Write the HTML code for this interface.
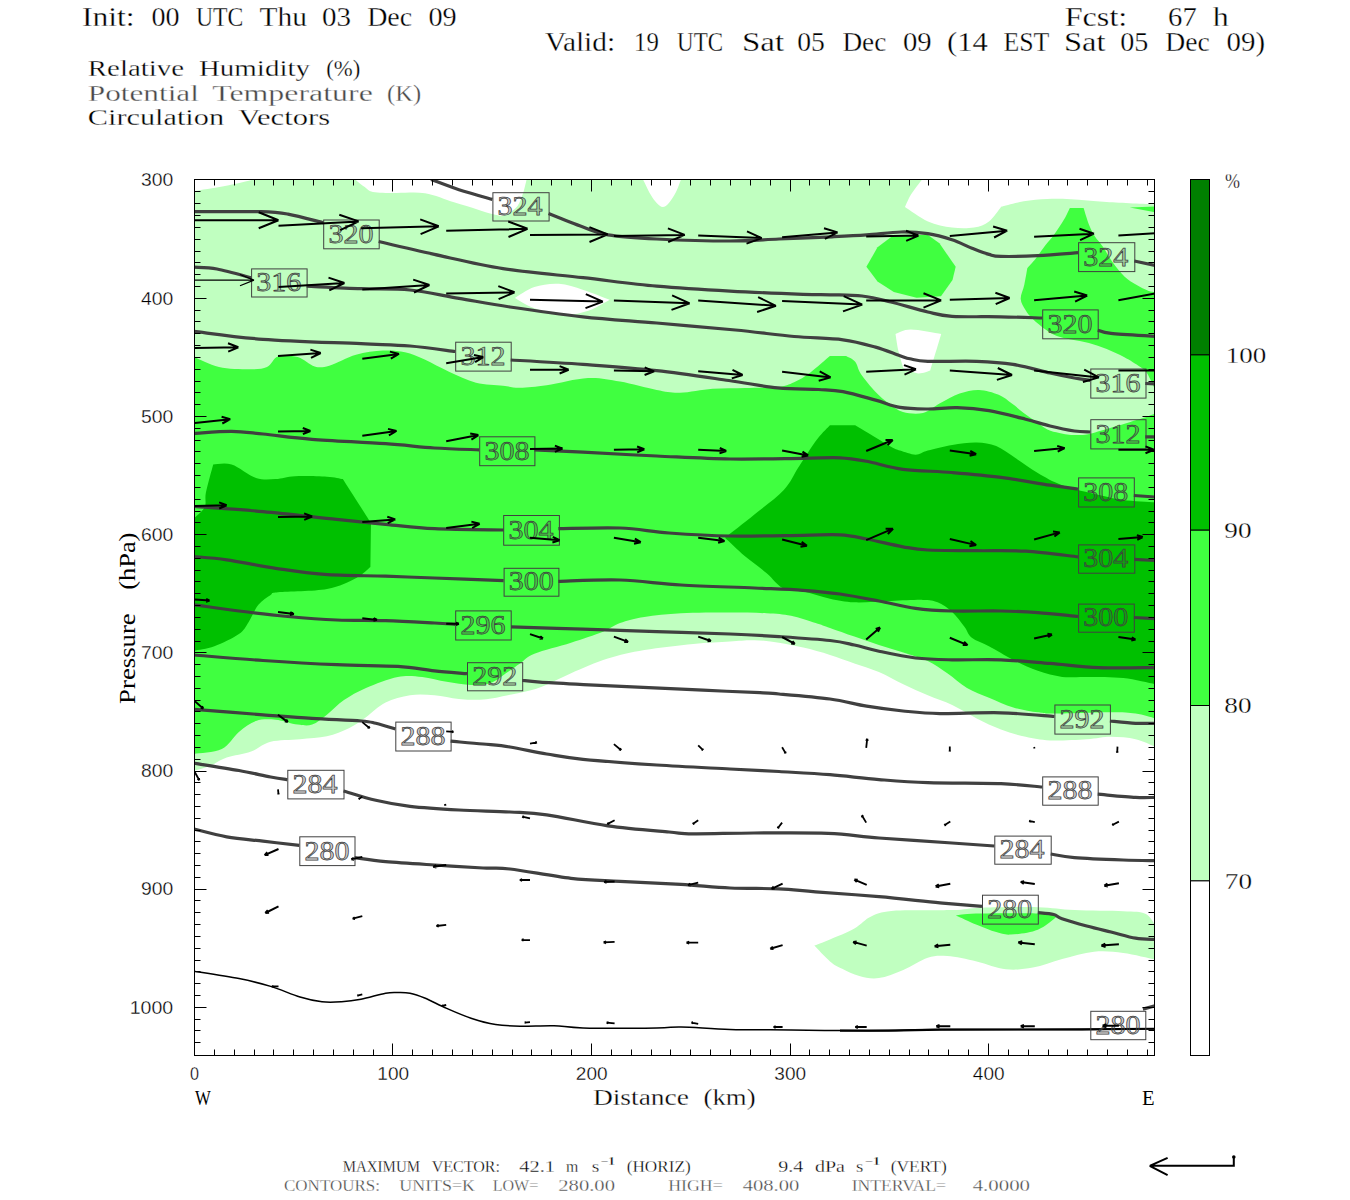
<!DOCTYPE html>
<html><head><meta charset="utf-8"><title>Cross section</title><style>html,body{margin:0;padding:0;background:#fff}svg{display:block}</style></head><body>
<svg width="1350" height="1200" viewBox="0 0 1350 1200"><defs><clipPath id="clipf"><rect x="194.5" y="179.5" width="960.0" height="876.0"/></clipPath></defs>
<g clip-path="url(#clipf)">
<path d="M194.0 191.0C199.2 190.2 215.0 187.9 225.0 186.0C235.0 184.1 249.2 180.6 254.0 179.5L355.0 179.5C356.5 180.7 361.0 184.4 364.0 186.5C367.0 188.6 367.8 190.9 373.0 192.0C378.2 193.1 386.3 192.8 395.0 193.0C403.7 193.2 415.2 191.8 425.0 193.3C434.8 194.9 445.3 199.6 454.0 202.3C462.7 205.0 471.0 207.4 477.4 209.4C483.8 211.4 488.2 213.0 492.2 214.1C496.2 215.2 499.9 215.7 501.5 216.0L508.2 214.1C509.8 212.7 515.3 209.0 517.7 205.8C520.1 202.6 521.2 198.2 522.4 195.1C523.6 191.9 524.1 189.5 524.8 186.9C525.5 184.3 526.3 180.7 526.6 179.5L643.0 179.5C644.3 182.0 648.3 190.7 650.6 194.6C652.9 198.5 654.7 200.9 656.7 203.0C658.7 205.1 660.8 207.0 662.8 207.0C664.8 207.0 666.7 205.5 668.9 203.0C671.1 200.5 674.0 195.9 676.0 192.0C678.0 188.1 680.2 181.6 681.0 179.5L922.0 179.5C920.2 182.0 913.8 190.0 911.0 194.6C908.2 199.2 906.0 204.9 905.0 207.0L905.0 207.0C908.8 209.4 920.2 218.0 928.0 221.4C935.8 224.8 944.3 226.6 952.0 227.6C959.7 228.6 967.8 228.6 974.0 227.6C980.2 226.6 984.5 224.8 989.0 221.4C993.5 218.0 999.0 209.4 1001.0 207.0L1001.0 206.8C1004.8 205.9 1016.0 202.6 1023.7 201.3C1031.4 200.0 1039.5 199.2 1047.4 198.9C1055.3 198.6 1061.1 198.7 1071.0 199.2C1080.9 199.7 1092.7 201.1 1106.7 201.9C1120.7 202.8 1147.0 203.9 1155.0 204.3L1155.0 746.6C1151.8 745.4 1142.9 740.8 1135.6 739.2C1128.3 737.6 1119.2 736.8 1111.0 736.8C1102.8 736.8 1096.9 738.6 1086.7 739.2C1076.5 739.8 1060.2 740.8 1050.0 740.4C1039.8 740.0 1033.8 738.6 1025.6 736.8C1017.4 735.0 1009.1 732.5 1001.0 729.4C992.9 726.3 984.8 722.5 976.7 718.4C968.6 714.3 960.4 708.9 952.2 705.0C944.1 701.1 935.9 698.7 927.8 695.2C919.6 691.7 911.4 688.1 903.3 684.2C895.1 680.3 887.0 675.5 878.9 672.0C870.8 668.5 862.5 666.2 854.4 663.4C846.2 660.5 838.5 657.5 830.0 654.9C821.5 652.3 811.8 649.6 803.3 647.6C794.8 645.6 787.0 643.9 778.9 642.7C770.8 641.5 762.5 640.4 754.4 640.2C746.2 640.0 740.2 640.8 730.0 641.4C719.8 642.0 707.6 642.5 693.3 643.9C679.0 645.3 658.6 647.5 644.4 650.0C630.1 652.5 620.0 654.7 607.8 658.6C595.6 662.5 582.1 668.5 571.1 673.2C560.1 677.9 550.3 683.4 541.8 686.7C533.3 690.0 525.7 691.4 520.0 692.8C514.3 694.2 513.9 694.1 507.8 695.2C501.7 696.3 491.5 699.0 483.3 699.6C475.1 700.2 467.0 699.6 458.9 698.9C450.8 698.2 442.5 695.8 434.4 695.2C426.2 694.6 418.1 694.0 410.0 695.2C401.9 696.4 392.9 698.9 385.6 702.6C378.3 706.3 372.1 712.9 366.0 717.2C359.9 721.5 355.4 725.0 348.9 728.2C342.4 731.4 335.0 734.5 326.9 736.3C318.8 738.1 309.4 738.3 300.0 739.2C290.6 740.1 278.8 739.7 270.7 741.7C262.6 743.7 258.4 748.8 251.1 751.4C243.8 754.0 233.6 755.1 226.7 757.6C219.8 760.1 215.0 763.9 209.6 766.1C204.2 768.3 196.6 770.2 194.0 771.0Z" fill="#c0ffc0"/>
<path d="M814.3 945.6C816.9 944.6 823.3 942.3 830.0 939.4C836.7 936.5 847.5 932.3 854.4 928.4C861.3 924.5 864.7 919.2 871.6 916.2C878.5 913.2 882.6 911.6 896.0 910.6C909.4 909.6 937.9 910.6 952.2 910.1C966.5 909.6 967.3 908.2 981.6 907.7C995.9 907.2 1022.3 906.8 1037.8 907.2C1053.3 907.6 1060.2 909.4 1074.4 910.1C1088.7 910.8 1111.5 910.7 1123.3 911.3C1135.1 911.9 1140.0 911.5 1145.3 913.8C1150.6 916.0 1153.4 923.0 1155.0 924.8L1155.0 959.5C1149.7 958.4 1133.5 954.2 1123.3 952.9C1113.1 951.6 1104.2 950.7 1094.0 951.7C1083.8 952.7 1072.4 956.4 1062.2 959.0C1052.0 961.6 1042.3 965.9 1032.9 967.6C1023.5 969.3 1015.4 970.3 1006.0 969.3C996.6 968.3 986.5 963.6 976.7 961.4C966.9 959.2 955.4 956.7 947.3 956.1C939.1 955.5 935.1 955.5 927.8 957.8C920.5 960.1 911.4 966.6 903.3 970.0C895.1 973.4 886.2 977.1 878.9 978.1C871.6 979.1 865.4 977.7 859.3 976.1C853.2 974.5 847.1 971.2 842.2 968.8C837.3 966.3 834.6 965.3 830.0 961.4C825.4 957.5 816.9 948.2 814.3 945.6Z" fill="#c0ffc0"/>
<path d="M514.9 298.0C518.1 296.2 527.1 289.4 534.4 287.0C541.7 284.6 550.8 283.3 558.9 283.8C567.0 284.3 574.8 287.2 583.3 289.9C591.8 292.5 605.3 298.1 609.7 299.7L609.7 299.7C606.1 301.5 595.9 308.2 588.2 310.7C580.6 313.2 572.8 315.2 563.8 314.8C554.8 314.4 542.5 311.0 534.4 308.2C526.2 305.4 518.1 299.7 514.9 298.0Z" fill="#ffffff"/>
<path d="M895.5 333.9C898.0 333.2 903.1 329.5 910.7 329.5C918.3 329.5 936.1 333.2 941.2 333.9L941.2 333.9C940.6 335.9 939.4 340.0 937.6 346.1C935.8 352.2 931.4 366.5 930.2 370.6L930.2 370.6C928.2 371.1 922.5 373.9 918.0 373.5C913.5 373.1 905.8 369.0 903.3 368.1L903.3 368.1C902.5 365.2 899.7 356.7 898.4 351.0C897.1 345.3 896.0 336.8 895.5 333.9Z" fill="#ffffff"/>
<path d="M194.0 357.0C198.2 358.7 209.8 364.9 219.0 367.0C228.2 369.1 241.0 369.3 249.0 369.3C257.0 369.3 262.2 369.1 267.0 367.0C271.8 364.9 272.9 358.1 278.0 356.4C283.1 354.7 291.5 355.3 297.6 357.0C303.7 358.7 309.4 364.9 314.7 366.4C320.0 367.8 322.4 367.6 329.3 365.7C336.2 363.8 347.1 357.2 356.0 354.7C364.9 352.2 374.8 350.9 383.0 350.5C391.2 350.1 398.1 350.7 405.0 352.2C411.9 353.7 417.4 356.3 424.7 359.6C432.0 362.9 440.4 367.9 449.0 371.8C457.6 375.7 467.0 380.5 476.0 382.8C485.0 385.1 495.7 384.9 503.0 385.7C510.3 386.5 512.7 387.8 520.0 387.7C527.3 387.6 535.4 386.8 546.7 385.2C558.0 383.6 575.8 378.6 588.0 378.0C600.2 377.4 608.5 379.6 620.0 381.6C631.5 383.6 646.7 388.1 656.7 390.0C666.7 391.9 670.7 392.9 680.0 392.7C689.3 392.5 701.7 389.5 712.6 388.7C723.5 387.9 734.3 388.2 745.2 387.9C756.1 387.6 769.6 387.9 777.8 387.0C785.9 386.1 788.7 384.6 794.1 382.2C799.5 379.8 804.4 376.8 810.4 372.4C816.4 368.0 826.6 358.8 829.9 356.1L829.9 356.1L846.2 356.1L846.2 356.1C847.7 357.1 852.8 358.8 855.2 361.8C857.7 364.8 857.5 369.0 860.9 374.0C864.3 379.0 871.0 387.0 875.6 391.9C880.2 396.8 884.0 399.9 888.6 403.3C893.2 406.7 897.3 410.4 903.0 412.0C908.7 413.6 916.8 414.4 923.0 413.0C929.2 411.6 933.9 406.5 940.0 403.3C946.1 400.1 953.1 395.8 959.6 393.6C966.1 391.4 972.5 389.8 979.0 390.0C985.5 390.2 993.2 392.6 998.7 394.8C1004.2 397.1 1007.7 400.5 1011.9 403.5C1016.1 406.5 1019.8 410.0 1023.7 413.0C1027.7 416.0 1031.6 418.5 1035.6 421.3C1039.5 424.1 1043.5 427.6 1047.4 429.6C1051.4 431.6 1055.3 432.2 1059.3 433.1C1063.2 434.0 1067.1 434.6 1071.1 434.9C1075.0 435.2 1079.8 435.1 1083.0 434.9C1086.2 434.7 1087.1 434.4 1090.1 433.7C1093.0 433.0 1097.0 431.8 1100.7 430.7C1104.5 429.6 1107.6 428.7 1112.6 427.2C1117.5 425.7 1125.5 423.4 1130.4 421.9C1135.3 420.4 1138.1 419.7 1142.2 418.3C1146.3 416.9 1152.9 414.2 1155.0 413.4L1155.0 718.4C1151.8 717.6 1142.9 714.6 1135.6 713.6C1128.3 712.6 1124.4 712.3 1111.0 712.3C1097.6 712.3 1067.2 713.6 1055.0 713.6C1042.8 713.6 1044.8 713.3 1037.8 712.3C1030.8 711.3 1021.4 709.8 1013.3 707.4C1005.2 705.0 996.7 701.0 989.0 697.7C981.3 694.5 974.0 692.0 967.0 687.9C960.0 683.8 953.8 677.7 947.3 673.2C940.8 668.7 935.1 664.5 927.8 661.0C920.5 657.5 911.4 655.0 903.3 652.4C895.1 649.8 887.0 647.7 878.9 645.1C870.8 642.5 862.5 639.5 854.4 636.6C846.2 633.8 836.5 630.2 830.0 628.0C823.5 625.8 822.1 625.1 815.6 623.1C809.1 621.1 799.1 617.4 791.0 615.8C782.9 614.2 776.9 613.8 766.7 613.3C756.5 612.8 744.3 612.6 730.0 612.6C715.7 612.6 695.3 612.6 681.0 613.3C666.7 614.0 654.6 615.4 644.4 617.0C634.2 618.6 626.9 620.6 620.0 623.1C613.1 625.6 611.2 628.4 603.0 631.7C594.8 635.0 582.4 639.0 571.0 642.7C559.6 646.4 542.9 650.2 534.4 653.7C525.9 657.2 524.4 660.4 520.0 663.4C515.6 666.4 512.7 668.7 507.8 672.0C502.9 675.3 496.8 680.8 490.7 683.0C484.6 685.2 478.3 685.2 471.0 685.0C463.7 684.8 454.8 683.1 446.7 681.8C438.6 680.4 430.3 677.7 422.2 676.9C414.1 676.1 407.2 675.1 397.8 676.9C388.4 678.7 375.0 684.0 366.0 687.9C357.0 691.8 350.5 695.6 344.0 700.1C337.5 704.6 332.2 710.7 326.9 714.8C321.6 718.9 317.1 723.0 312.2 724.6C307.3 726.2 303.7 725.4 297.6 724.6C291.5 723.8 282.5 720.3 275.6 719.7C268.7 719.1 262.1 718.9 256.0 720.9C249.9 722.9 244.6 727.2 238.9 731.9C233.2 736.6 229.3 745.3 221.8 749.0C214.3 752.7 198.6 753.1 194.0 753.9Z" fill="#40ff40"/>
<path d="M1069.9 208.0L1083.6 208.0L1083.6 208.0C1084.5 210.7 1087.0 219.7 1088.9 224.4C1090.8 229.1 1092.4 232.4 1094.8 236.2C1097.2 239.9 1100.1 242.6 1103.1 246.9C1106.1 251.2 1109.0 257.4 1112.6 262.3C1116.1 267.2 1120.5 272.8 1124.4 276.5C1128.4 280.2 1132.3 282.4 1136.3 284.8C1140.2 287.2 1145.0 289.5 1148.1 290.7C1151.2 291.9 1153.8 291.9 1155.0 292.2L1155.0 389.3C1154.2 387.7 1152.0 382.8 1150.5 379.8C1149.0 376.8 1147.6 373.7 1145.8 371.5C1144.0 369.3 1143.5 369.1 1139.9 366.7C1136.3 364.3 1129.9 360.2 1124.4 357.3C1118.9 354.4 1112.6 351.4 1106.7 349.0C1100.8 346.6 1094.8 344.6 1088.9 343.0C1083.0 341.4 1076.4 340.7 1071.1 339.5C1065.8 338.3 1061.1 337.5 1056.9 335.9C1052.8 334.3 1050.2 332.8 1046.2 330.0C1042.2 327.2 1036.5 322.5 1033.0 319.2C1029.5 315.9 1027.5 313.4 1025.5 310.0C1023.5 306.6 1020.9 303.2 1020.7 299.0C1020.5 294.8 1023.2 289.9 1024.3 284.8C1025.4 279.7 1026.8 271.0 1027.3 268.2L1027.3 268.2C1028.7 266.6 1032.6 262.4 1035.6 258.7C1038.5 254.9 1042.0 249.6 1045.0 245.7C1048.0 241.8 1050.7 239.3 1053.9 235.0C1057.1 230.7 1061.3 224.1 1064.0 219.6C1066.7 215.1 1068.9 209.9 1069.9 208.0Z" fill="#40ff40"/>
<path d="M1129.8 207.5L1155.0 206.5L1155.0 212.3L1129.8 207.5Z" fill="#40ff40"/>
<path d="M955.9 915.5C959.2 915.2 962.0 913.8 976.0 913.5C990.0 913.2 1026.5 913.0 1040.0 913.5C1053.5 914.0 1054.4 915.8 1057.3 916.2L1057.3 916.2C1054.0 918.5 1045.5 926.6 1037.8 929.7C1030.1 932.8 1017.8 934.2 1010.9 934.6C1004.0 935.0 1001.9 933.7 996.2 932.1C990.5 930.5 983.4 927.6 976.7 924.8C970.0 922.0 959.4 917.0 955.9 915.5Z" fill="#40ff40"/>
<path d="M866.4 266.8L877.5 247.3L877.5 247.3L893.8 235.0L893.8 235.0L928.0 235.0L928.0 235.0L939.4 243.2L939.4 243.2L955.7 266.8L955.7 266.8L952.5 279.9L952.5 279.9L941.0 296.2L941.0 296.2L916.6 297.8L916.6 297.8L893.8 292.1L893.8 292.1L877.5 281.5L877.5 281.5L866.4 266.8Z" fill="#40ff40"/>
<path d="M194.0 518.2C195.8 516.4 202.7 511.5 204.7 507.2C206.7 502.9 204.5 499.7 205.9 492.6C207.3 485.5 212.0 469.1 213.2 464.4L213.2 464.4C216.3 464.4 224.5 462.1 231.6 464.4C238.7 466.6 248.7 475.4 256.0 477.9C263.3 480.3 269.1 479.4 275.6 479.1C282.1 478.8 286.4 476.6 295.0 476.2C303.6 475.8 319.0 476.2 327.0 476.7C335.0 477.2 340.2 478.7 342.8 479.1L342.8 479.1C345.0 482.6 351.5 492.7 356.2 500.0C360.9 507.3 368.5 519.2 371.0 523.0L371.0 523.0L370.4 567.0L370.4 567.0C368.0 568.8 363.4 574.3 356.2 578.0C349.0 581.7 340.0 586.6 327.0 589.0C314.0 591.4 287.4 591.3 278.0 592.3C268.6 593.3 274.0 592.9 270.7 595.0C267.4 597.1 262.1 600.3 258.4 604.8C254.7 609.3 251.9 617.0 248.7 621.9C245.4 626.8 244.6 630.0 238.9 634.1C233.2 638.2 221.9 643.5 214.4 646.3C206.9 649.1 197.4 650.0 194.0 650.7Z" fill="#00c000"/>
<path d="M725.0 537.8C729.9 533.9 744.6 522.6 754.4 514.6C764.2 506.6 776.5 497.8 783.8 490.0C791.1 482.2 794.1 474.0 798.0 468.0C801.9 462.0 803.7 459.0 807.1 453.9C810.5 448.8 814.7 442.4 818.5 437.6C822.3 432.8 828.0 427.4 829.9 425.3L829.9 425.3L855.2 425.3L855.2 425.3C858.6 427.4 869.5 433.9 875.6 437.6C881.7 441.3 887.8 445.1 891.9 447.3C896.0 449.5 896.0 449.4 900.0 450.6C904.0 451.8 911.0 454.7 915.6 454.7C920.2 454.7 921.7 452.1 927.8 450.5C933.9 448.9 944.1 446.2 952.2 444.9C960.4 443.5 969.4 442.2 976.7 442.4C984.0 442.6 989.7 443.5 996.2 446.1C1002.7 448.8 1008.9 453.8 1015.8 458.3C1022.7 462.8 1030.1 468.5 1037.8 473.0C1045.5 477.5 1052.0 481.5 1062.2 485.2C1072.4 488.9 1088.7 492.6 1098.9 495.0C1109.1 497.4 1114.0 498.7 1123.3 499.9C1132.6 501.1 1149.7 501.9 1155.0 502.3L1155.0 684.2C1149.7 683.2 1134.7 679.3 1123.3 678.1C1111.9 676.9 1096.9 677.1 1086.7 676.9C1076.5 676.7 1070.4 677.9 1062.2 676.9C1054.0 675.9 1046.0 673.6 1037.8 670.8C1029.6 667.9 1021.4 663.9 1013.3 659.8C1005.1 655.7 995.8 650.0 988.9 646.3C982.0 642.6 975.9 641.0 971.8 637.8C967.7 634.5 967.7 631.1 964.4 626.8C961.1 622.5 956.7 616.2 952.2 612.1C947.7 608.0 942.5 604.3 937.6 602.3C932.7 600.3 930.7 600.1 922.9 599.9C915.1 599.7 902.4 600.6 891.0 601.0C879.6 601.4 864.6 602.7 854.4 602.3C844.2 601.9 838.5 600.5 830.0 598.7C821.5 596.9 811.2 593.4 803.3 591.6C795.4 589.8 788.7 591.0 782.6 587.9C776.5 584.8 773.0 578.5 766.7 573.2C760.4 567.9 751.7 562.0 744.7 556.1C737.8 550.2 728.3 540.8 725.0 537.8Z" fill="#00c000"/>
<path d="M431.0 179.5C435.7 181.2 448.8 186.4 459.0 189.7C469.2 193.0 486.8 197.8 492.4 199.4" fill="none" stroke="#404040" stroke-width="3.2"/>
<path d="M548.6 213.5C554.3 215.8 573.1 223.4 583.0 227.0C592.9 230.6 595.7 232.9 608.0 234.9C620.3 236.9 636.4 238.0 656.7 239.0C677.0 240.0 709.6 241.0 730.0 241.0C750.4 241.0 762.0 239.7 779.0 239.0C796.0 238.3 817.4 237.5 832.0 236.8C846.6 236.1 855.2 235.7 866.7 234.9C878.2 234.1 890.8 232.2 901.0 232.0C911.2 231.8 919.3 232.4 927.8 233.7C936.3 235.0 944.6 237.4 952.0 239.8C959.4 242.2 965.8 245.9 972.0 248.3C978.2 250.7 984.2 253.1 989.0 254.4C993.8 255.8 992.9 256.2 1001.0 256.4C1009.1 256.6 1025.0 256.3 1037.8 255.7C1050.6 255.1 1071.3 253.2 1078.0 252.7" fill="none" stroke="#404040" stroke-width="3.2"/>
<path d="M1134.3 261.0L1155.0 265.4" fill="none" stroke="#404040" stroke-width="3.2"/>
<path d="M194.0 211.7C205.2 211.7 245.3 211.3 261.0 211.7C276.7 212.1 277.6 212.3 288.0 214.1C298.4 215.9 317.3 221.3 323.2 222.7" fill="none" stroke="#404040" stroke-width="3.2"/>
<path d="M378.7 241.5C388.0 243.7 413.7 249.9 434.4 254.4C455.1 258.9 478.2 264.7 503.0 268.6C527.8 272.5 557.4 274.8 583.0 277.7C608.6 280.6 632.2 284.0 656.7 286.2C681.2 288.4 705.6 289.8 730.0 291.1C754.4 292.5 786.3 293.7 803.0 294.3C819.7 294.9 820.2 294.5 830.0 294.8C839.8 295.1 851.8 294.8 862.0 296.0C872.2 297.2 880.0 299.3 891.0 302.0C902.0 304.7 917.6 309.6 927.8 312.0C938.0 314.4 939.8 315.5 952.0 316.3C964.2 317.1 986.0 316.5 1001.0 316.8C1016.0 317.1 1035.3 317.8 1042.2 318.0" fill="none" stroke="#404040" stroke-width="3.2"/>
<path d="M1097.7 330.2C1099.9 330.7 1101.5 332.4 1111.0 333.4C1120.5 334.4 1147.7 335.8 1155.0 336.3" fill="none" stroke="#404040" stroke-width="3.2"/>
<path d="M194.0 267.2C197.8 267.5 207.5 267.2 217.0 269.0C226.5 270.8 245.3 276.2 251.0 277.7" fill="none" stroke="#404040" stroke-width="3.2"/>
<path d="M306.6 286.2C315.7 286.6 343.8 288.1 361.0 288.7C378.2 289.3 393.7 288.4 410.0 290.0C426.3 291.6 442.3 295.6 459.0 298.4C475.7 301.2 489.3 303.9 510.0 307.0C530.7 310.1 558.5 314.1 583.0 316.8C607.5 319.5 631.3 320.8 656.7 323.0C682.1 325.2 712.5 327.8 735.4 330.0C758.3 332.2 776.2 334.9 794.1 336.5C812.0 338.1 829.4 338.0 843.0 339.8C856.6 341.6 866.1 344.5 875.6 347.1C885.1 349.8 894.3 353.8 900.0 355.7C905.7 357.6 905.4 357.9 910.0 358.8C914.6 359.7 916.7 360.9 927.8 361.3C938.9 361.7 962.5 360.8 976.7 361.3C990.9 361.8 1000.8 362.4 1013.0 364.4C1025.2 366.3 1039.8 370.7 1050.0 373.0C1060.2 375.3 1067.7 376.8 1074.4 378.0C1081.1 379.2 1087.7 379.9 1090.3 380.3" fill="none" stroke="#404040" stroke-width="3.2"/>
<path d="M1145.3 383.5L1155.0 383.8" fill="none" stroke="#404040" stroke-width="3.2"/>
<path d="M194.0 331.4C205.5 332.7 235.2 337.2 263.0 339.3C290.8 341.4 336.5 342.6 361.0 343.7C385.5 344.8 394.3 344.7 410.0 346.0C425.7 347.3 447.7 350.6 455.2 351.5" fill="none" stroke="#404040" stroke-width="3.2"/>
<path d="M510.7 360.0C522.8 360.7 558.7 362.6 583.0 364.4C607.3 366.2 632.4 367.9 656.7 370.6C681.0 373.3 708.7 377.6 728.9 380.5C749.1 383.4 762.9 386.4 777.8 387.9C792.7 389.4 807.6 388.9 818.5 389.5C829.4 390.1 833.5 389.8 843.0 391.6C852.5 393.4 866.1 397.5 875.6 400.1C885.1 402.7 891.3 405.9 900.0 407.4C908.7 408.9 918.3 408.9 927.8 409.0C937.3 409.1 946.8 407.4 957.0 407.7C967.2 408.0 977.6 408.8 989.0 410.7C1000.4 412.6 1015.4 416.6 1025.6 419.2C1035.8 421.8 1041.9 424.0 1050.0 426.0C1058.1 428.0 1067.7 430.0 1074.4 431.0C1081.1 432.0 1087.7 431.8 1090.3 432.0" fill="none" stroke="#404040" stroke-width="3.2"/>
<path d="M1145.3 436.8L1155.0 436.8" fill="none" stroke="#404040" stroke-width="3.2"/>
<path d="M194.0 433.4C200.3 433.1 220.1 431.3 231.6 431.4C243.1 431.5 249.6 432.7 263.0 434.0C276.4 435.3 291.6 437.7 312.0 439.3C332.4 440.9 365.2 442.2 385.6 443.7C406.0 445.1 418.8 447.0 434.4 448.0C450.0 449.0 471.7 449.5 479.2 449.8" fill="none" stroke="#404040" stroke-width="3.2"/>
<path d="M534.4 449.8C542.5 450.2 562.6 451.2 583.0 452.2C603.4 453.2 632.2 454.9 656.7 456.0C681.2 457.1 705.6 458.6 730.0 459.0C754.4 459.4 784.7 458.5 803.0 458.3C821.3 458.1 829.4 457.3 840.0 457.8C850.6 458.3 856.2 459.4 866.7 461.3C877.2 463.2 888.8 467.4 903.0 469.3C917.2 471.2 935.7 471.1 952.0 472.5C968.3 473.9 984.7 475.3 1001.0 477.4C1017.3 479.5 1037.2 483.3 1050.0 485.2C1062.8 487.1 1073.3 488.4 1078.0 489.0" fill="none" stroke="#404040" stroke-width="3.2"/>
<path d="M1133.8 495.5L1155.0 497.0" fill="none" stroke="#404040" stroke-width="3.2"/>
<path d="M194.0 506.5C205.5 507.4 239.2 509.5 263.0 511.6C286.8 513.8 316.3 517.3 336.7 519.4C357.1 521.5 369.3 522.8 385.6 524.3C401.9 525.8 414.7 527.8 434.4 528.7C454.1 529.7 492.1 529.8 503.6 530.0" fill="none" stroke="#404040" stroke-width="3.2"/>
<path d="M558.4 528.7C568.7 528.6 601.6 527.3 620.0 528.0C638.4 528.7 650.7 531.7 669.0 533.0C687.3 534.3 707.7 535.6 730.0 536.0C752.3 536.4 784.7 535.5 803.0 535.3C821.3 535.1 829.4 534.3 840.0 534.9C850.6 535.5 856.2 537.0 866.7 539.0C877.2 541.0 892.8 545.0 903.0 546.8C913.2 548.6 915.5 549.4 927.8 550.0C940.1 550.6 960.4 550.5 976.7 550.7C993.0 550.9 1008.7 550.2 1025.6 551.2C1042.5 552.2 1069.3 555.9 1078.0 556.8" fill="none" stroke="#404040" stroke-width="3.2"/>
<path d="M1134.3 559.3L1155.0 560.5" fill="none" stroke="#404040" stroke-width="3.2"/>
<path d="M194.0 556.6C199.4 557.1 213.1 557.8 226.7 559.8C240.3 561.8 259.3 565.9 275.6 568.3C291.9 570.7 306.1 573.1 324.4 574.4C342.7 575.7 367.3 575.6 385.6 576.2C403.9 576.8 414.7 577.3 434.4 578.0C454.1 578.7 492.1 580.2 503.6 580.6" fill="none" stroke="#404040" stroke-width="3.2"/>
<path d="M558.4 581.3C568.7 581.1 599.6 579.4 620.0 580.0C640.4 580.6 658.6 583.7 681.0 585.0C703.4 586.3 734.1 587.1 754.4 588.0C774.7 588.9 788.7 589.3 803.0 590.3C817.3 591.3 827.4 592.2 840.0 594.0C852.6 595.8 866.3 598.6 878.9 601.0C891.5 603.4 903.4 606.7 915.6 608.4C927.8 610.1 937.8 610.6 952.0 611.0C966.2 611.4 986.7 610.7 1001.0 611.0C1015.3 611.3 1025.0 611.7 1037.8 612.6C1050.6 613.5 1071.3 615.9 1078.0 616.5" fill="none" stroke="#404040" stroke-width="3.2"/>
<path d="M1133.8 617.5L1155.0 618.7" fill="none" stroke="#404040" stroke-width="3.2"/>
<path d="M194.0 604.8C201.5 605.8 223.4 609.0 239.0 611.0C254.6 613.0 271.5 615.0 287.8 616.5C304.1 618.0 320.4 619.3 336.7 620.0C353.0 620.7 369.3 620.2 385.6 620.7C401.9 621.2 422.8 622.4 434.4 623.0C446.0 623.6 451.7 624.1 455.2 624.3" fill="none" stroke="#404040" stroke-width="3.2"/>
<path d="M511.0 626.8C523.0 627.2 558.7 628.4 583.0 629.2C607.3 630.0 632.2 630.9 656.7 631.7C681.2 632.5 709.6 633.2 730.0 634.0C750.4 634.8 762.3 635.5 779.0 636.6C795.7 637.7 817.4 639.1 830.0 640.5C842.6 641.9 846.2 643.2 854.4 645.0C862.6 646.8 868.8 649.0 879.0 651.2C889.2 653.4 903.4 656.6 915.6 658.0C927.8 659.4 937.8 659.5 952.0 659.8C966.2 660.1 984.7 659.2 1001.0 659.8C1017.3 660.4 1033.7 662.1 1050.0 663.4C1066.3 664.7 1081.5 666.9 1099.0 667.6C1116.5 668.3 1145.7 667.6 1155.0 667.6" fill="none" stroke="#404040" stroke-width="3.2"/>
<path d="M194.0 655.0C205.5 655.9 239.2 658.9 263.0 660.5C286.8 662.1 314.2 663.7 336.7 664.7C359.2 665.7 381.5 665.4 397.8 666.4C414.1 667.4 422.9 669.6 434.4 670.8C445.9 672.0 461.6 673.2 467.0 673.7" fill="none" stroke="#404040" stroke-width="3.2"/>
<path d="M522.2 680.3C525.2 680.6 528.9 681.4 540.0 682.1C551.1 682.9 569.9 683.8 588.9 684.8C607.9 685.8 635.0 686.9 654.0 687.8C673.0 688.7 685.3 689.4 703.0 690.2C720.7 691.0 747.3 692.1 760.0 692.7C772.7 693.3 767.3 693.0 779.0 694.0C790.7 695.0 815.4 697.0 830.0 699.0C844.6 701.0 854.5 704.2 866.7 706.2C878.9 708.2 890.8 709.8 903.0 711.0C915.2 712.2 923.7 713.3 940.0 713.6C956.3 713.9 981.9 712.3 1001.0 712.8C1020.1 713.3 1045.5 715.9 1054.4 716.5" fill="none" stroke="#404040" stroke-width="3.2"/>
<path d="M1109.9 721.0C1114.2 721.4 1128.1 722.9 1135.6 723.3C1143.1 723.7 1151.8 723.3 1155.0 723.3" fill="none" stroke="#404040" stroke-width="3.2"/>
<path d="M194.0 709.4C205.5 710.3 243.3 713.3 263.0 714.8C282.7 716.3 295.7 717.4 312.0 718.4C328.3 719.4 350.4 720.2 361.0 721.0C371.6 721.8 370.1 722.0 375.8 723.3C381.5 724.6 392.1 728.0 395.3 729.0" fill="none" stroke="#404040" stroke-width="3.2"/>
<path d="M450.6 741.2C456.0 741.7 473.1 743.0 483.0 744.0C492.9 745.0 499.4 745.3 510.0 747.0C520.6 748.7 534.5 752.0 546.7 754.0C558.9 756.0 564.7 757.5 583.0 759.3C601.3 761.1 632.2 763.4 656.7 765.0C681.2 766.6 709.6 767.9 730.0 769.0C750.4 770.1 762.3 770.5 779.0 771.5C795.7 772.5 813.3 773.4 830.0 774.7C846.7 776.1 862.7 778.3 879.0 779.6C895.3 780.9 907.5 782.0 927.8 782.7C948.1 783.4 981.9 783.0 1001.0 783.7C1020.1 784.4 1035.3 786.5 1042.2 787.0" fill="none" stroke="#404040" stroke-width="3.2"/>
<path d="M1097.7 794.2C1104.0 794.7 1126.0 796.9 1135.6 797.4C1145.1 797.9 1151.8 797.4 1155.0 797.4" fill="none" stroke="#404040" stroke-width="3.2"/>
<path d="M194.0 763.2C201.5 764.4 226.2 768.2 239.0 770.5C251.8 772.8 262.6 775.5 270.7 777.0C278.8 778.5 284.5 779.2 287.3 779.6" fill="none" stroke="#404040" stroke-width="3.2"/>
<path d="M343.5 791.0C348.9 792.5 364.7 797.7 375.8 800.3C386.9 802.9 396.1 804.8 410.0 806.4C423.9 808.0 442.3 809.1 459.0 810.0C475.7 810.9 495.4 811.2 510.0 812.0C524.6 812.8 530.4 812.5 546.7 814.8C563.0 817.1 587.4 822.9 607.8 825.8C628.2 828.7 654.8 830.7 669.0 832.0C683.2 833.3 678.8 833.6 693.0 833.8C707.2 834.0 731.5 833.1 754.0 833.0C776.5 832.9 807.2 832.5 828.0 833.3C848.8 834.1 858.3 836.4 879.0 838.0C899.7 839.6 932.8 841.7 952.0 843.0C971.2 844.3 987.2 845.5 994.3 846.0" fill="none" stroke="#404040" stroke-width="3.2"/>
<path d="M1050.7 854.0C1054.7 854.6 1062.4 856.6 1074.4 857.6C1086.5 858.6 1109.6 859.5 1123.0 860.0C1136.4 860.5 1149.7 860.6 1155.0 860.7" fill="none" stroke="#404040" stroke-width="3.2"/>
<path d="M194.0 829.0C199.4 830.3 215.2 834.8 226.7 836.8C238.2 838.8 250.9 839.8 263.0 841.2C275.1 842.6 293.2 844.6 299.3 845.3" fill="none" stroke="#404040" stroke-width="3.2"/>
<path d="M354.5 857.6C359.7 858.3 372.3 860.5 385.6 861.7C398.9 862.9 418.2 864.0 434.4 865.0C450.6 866.0 470.4 867.3 483.0 868.0C495.6 868.7 495.3 867.3 510.0 869.0C524.7 870.7 552.7 876.2 571.0 878.3C589.3 880.3 601.7 880.3 620.0 881.3C638.3 882.3 662.7 883.3 681.0 884.4C699.3 885.5 713.7 887.3 730.0 888.0C746.3 888.7 764.7 888.2 779.0 888.8C793.3 889.4 798.9 890.5 815.6 891.8C832.3 893.1 858.3 894.9 879.0 896.7C899.7 898.5 922.8 901.2 940.0 902.8C957.2 904.4 975.0 905.8 982.0 906.4" fill="none" stroke="#404040" stroke-width="3.2"/>
<path d="M1037.8 912.6C1040.5 912.9 1049.7 913.5 1053.7 914.5C1057.7 915.5 1056.5 916.8 1062.0 918.7C1067.5 920.6 1078.5 923.8 1086.7 926.0C1094.9 928.2 1102.8 930.0 1111.0 932.0C1119.2 934.0 1128.3 937.0 1135.6 938.2C1142.9 939.4 1151.8 939.2 1155.0 939.4" fill="none" stroke="#404040" stroke-width="3.2"/>
<path d="M1142.9 1009.1L1155.0 1005.9" fill="none" stroke="#404040" stroke-width="3.2"/>
<path d="M194.0 971.2C201.5 972.4 226.2 976.1 239.0 978.6C251.8 981.1 260.5 983.3 270.7 986.4C280.9 989.5 291.4 994.4 300.0 997.0C308.6 999.6 315.1 1001.0 322.0 1001.8C328.9 1002.6 335.1 1002.2 341.6 1001.8C348.1 1001.4 353.7 1000.7 361.0 999.3C368.3 997.9 379.5 994.3 385.6 993.2C391.7 992.1 393.7 992.5 397.8 992.5C401.9 992.5 405.5 992.3 410.0 993.2C414.5 994.1 418.6 995.5 424.7 998.0C430.8 1000.5 439.0 1005.0 446.7 1008.4C454.4 1011.8 462.9 1015.5 471.0 1018.2C479.1 1020.9 487.4 1023.2 495.6 1024.5C503.8 1025.8 510.3 1026.0 520.0 1026.2C529.7 1026.4 543.5 1025.4 554.0 1025.7C564.5 1026.0 565.9 1027.5 583.0 1027.9C600.1 1028.3 640.4 1028.1 656.7 1027.9C673.0 1027.8 668.8 1026.8 681.0 1027.0C693.2 1027.2 711.7 1028.9 730.0 1029.4C748.3 1029.9 772.7 1029.8 791.0 1030.0C809.3 1030.2 823.7 1030.5 840.0 1030.6C856.3 1030.7 872.0 1030.8 888.7 1030.6C905.4 1030.4 907.8 1029.8 940.0 1029.6C972.2 1029.4 1046.0 1029.6 1081.8 1029.4C1117.6 1029.2 1142.8 1028.8 1155.0 1028.7" fill="none" stroke="#000" stroke-width="1.5"/>
<path d="M840 1030.6 L888.7 1030.6 L940 1029.6 L1081.8 1029.4 L1155 1028.7" fill="none" stroke="#000" stroke-width="2.1"/>
</g>
<rect x="492.9" y="192.7" width="56.2" height="28.3" fill="none" stroke="#404040" stroke-width="1"/>
<text x="497.6" y="214.9" font-family="'Liberation Serif',serif" font-size="28" fill="#404040" fill-opacity="0.25" stroke="#404040" stroke-width="0.75" textLength="45" lengthAdjust="spacingAndGlyphs">324</text>
<rect x="1078.6" y="242.7" width="56.2" height="28.9" fill="none" stroke="#404040" stroke-width="1"/>
<text x="1083.3" y="265.5" font-family="'Liberation Serif',serif" font-size="28" fill="#404040" fill-opacity="0.25" stroke="#404040" stroke-width="0.75" textLength="45" lengthAdjust="spacingAndGlyphs">324</text>
<rect x="323.7" y="220.0" width="55.5" height="28.8" fill="none" stroke="#404040" stroke-width="1"/>
<text x="328.4" y="242.7" font-family="'Liberation Serif',serif" font-size="28" fill="#404040" fill-opacity="0.25" stroke="#404040" stroke-width="0.75" textLength="45" lengthAdjust="spacingAndGlyphs">320</text>
<rect x="1042.7" y="309.9" width="55.5" height="28.9" fill="none" stroke="#404040" stroke-width="1"/>
<text x="1047.4" y="332.7" font-family="'Liberation Serif',serif" font-size="28" fill="#404040" fill-opacity="0.25" stroke="#404040" stroke-width="0.75" textLength="45" lengthAdjust="spacingAndGlyphs">320</text>
<rect x="251.6" y="268.9" width="55.5" height="28.1" fill="none" stroke="#404040" stroke-width="1"/>
<text x="256.3" y="290.9" font-family="'Liberation Serif',serif" font-size="28" fill="#404040" fill-opacity="0.25" stroke="#404040" stroke-width="0.75" textLength="45" lengthAdjust="spacingAndGlyphs">316</text>
<rect x="1090.8" y="369.0" width="55.2" height="29.1" fill="none" stroke="#404040" stroke-width="1"/>
<text x="1095.5" y="392.0" font-family="'Liberation Serif',serif" font-size="28" fill="#404040" fill-opacity="0.25" stroke="#404040" stroke-width="0.75" textLength="45" lengthAdjust="spacingAndGlyphs">316</text>
<rect x="455.7" y="342.2" width="55.5" height="28.9" fill="none" stroke="#404040" stroke-width="1"/>
<text x="460.4" y="365.0" font-family="'Liberation Serif',serif" font-size="28" fill="#404040" fill-opacity="0.25" stroke="#404040" stroke-width="0.75" textLength="45" lengthAdjust="spacingAndGlyphs">312</text>
<rect x="1090.8" y="419.7" width="55.2" height="29.2" fill="none" stroke="#404040" stroke-width="1"/>
<text x="1095.5" y="442.8" font-family="'Liberation Serif',serif" font-size="28" fill="#404040" fill-opacity="0.25" stroke="#404040" stroke-width="0.75" textLength="45" lengthAdjust="spacingAndGlyphs">312</text>
<rect x="479.7" y="436.8" width="55.2" height="28.9" fill="none" stroke="#404040" stroke-width="1"/>
<text x="484.4" y="459.6" font-family="'Liberation Serif',serif" font-size="28" fill="#404040" fill-opacity="0.25" stroke="#404040" stroke-width="0.75" textLength="45" lengthAdjust="spacingAndGlyphs">308</text>
<rect x="1078.6" y="477.9" width="55.7" height="29.1" fill="none" stroke="#404040" stroke-width="1"/>
<text x="1083.3" y="500.9" font-family="'Liberation Serif',serif" font-size="28" fill="#404040" fill-opacity="0.25" stroke="#404040" stroke-width="0.75" textLength="45" lengthAdjust="spacingAndGlyphs">308</text>
<rect x="503.7" y="515.5" width="55.7" height="29.7" fill="none" stroke="#404040" stroke-width="1"/>
<text x="508.4" y="539.1" font-family="'Liberation Serif',serif" font-size="28" fill="#404040" fill-opacity="0.25" stroke="#404040" stroke-width="0.75" textLength="45" lengthAdjust="spacingAndGlyphs">304</text>
<rect x="1078.6" y="544.9" width="56.2" height="28.3" fill="none" stroke="#404040" stroke-width="1"/>
<text x="1083.3" y="567.1" font-family="'Liberation Serif',serif" font-size="28" fill="#404040" fill-opacity="0.25" stroke="#404040" stroke-width="0.75" textLength="45" lengthAdjust="spacingAndGlyphs">304</text>
<rect x="504.1" y="568.3" width="54.8" height="27.9" fill="none" stroke="#404040" stroke-width="1"/>
<text x="508.8" y="590.1" font-family="'Liberation Serif',serif" font-size="28" fill="#404040" fill-opacity="0.25" stroke="#404040" stroke-width="0.75" textLength="45" lengthAdjust="spacingAndGlyphs">300</text>
<rect x="1078.6" y="604.1" width="55.7" height="28.1" fill="none" stroke="#404040" stroke-width="1"/>
<text x="1083.3" y="626.1" font-family="'Liberation Serif',serif" font-size="28" fill="#404040" fill-opacity="0.25" stroke="#404040" stroke-width="0.75" textLength="45" lengthAdjust="spacingAndGlyphs">300</text>
<rect x="455.7" y="610.9" width="55.5" height="29.1" fill="none" stroke="#404040" stroke-width="1"/>
<text x="460.4" y="633.9" font-family="'Liberation Serif',serif" font-size="28" fill="#404040" fill-opacity="0.25" stroke="#404040" stroke-width="0.75" textLength="45" lengthAdjust="spacingAndGlyphs">296</text>
<rect x="467.5" y="662.7" width="55.2" height="28.1" fill="none" stroke="#404040" stroke-width="1"/>
<text x="472.2" y="684.7" font-family="'Liberation Serif',serif" font-size="28" fill="#404040" fill-opacity="0.25" stroke="#404040" stroke-width="0.75" textLength="45" lengthAdjust="spacingAndGlyphs">292</text>
<rect x="1054.9" y="705.0" width="55.5" height="29.1" fill="none" stroke="#404040" stroke-width="1"/>
<text x="1059.6" y="728.0" font-family="'Liberation Serif',serif" font-size="28" fill="#404040" fill-opacity="0.25" stroke="#404040" stroke-width="0.75" textLength="45" lengthAdjust="spacingAndGlyphs">292</text>
<rect x="395.8" y="722.1" width="55.3" height="28.9" fill="none" stroke="#404040" stroke-width="1"/>
<text x="400.5" y="744.9" font-family="'Liberation Serif',serif" font-size="28" fill="#404040" fill-opacity="0.25" stroke="#404040" stroke-width="0.75" textLength="45" lengthAdjust="spacingAndGlyphs">288</text>
<rect x="1042.7" y="776.9" width="55.5" height="28.3" fill="none" stroke="#404040" stroke-width="1"/>
<text x="1047.4" y="799.1" font-family="'Liberation Serif',serif" font-size="28" fill="#404040" fill-opacity="0.25" stroke="#404040" stroke-width="0.75" textLength="45" lengthAdjust="spacingAndGlyphs">288</text>
<rect x="287.8" y="770.3" width="56.2" height="28.6" fill="none" stroke="#404040" stroke-width="1"/>
<text x="292.5" y="792.8" font-family="'Liberation Serif',serif" font-size="28" fill="#404040" fill-opacity="0.25" stroke="#404040" stroke-width="0.75" textLength="45" lengthAdjust="spacingAndGlyphs">284</text>
<rect x="994.8" y="836.1" width="56.4" height="28.1" fill="none" stroke="#404040" stroke-width="1"/>
<text x="999.5" y="858.1" font-family="'Liberation Serif',serif" font-size="28" fill="#404040" fill-opacity="0.25" stroke="#404040" stroke-width="0.75" textLength="45" lengthAdjust="spacingAndGlyphs">284</text>
<rect x="299.8" y="836.8" width="55.2" height="28.8" fill="none" stroke="#404040" stroke-width="1"/>
<text x="304.5" y="859.5" font-family="'Liberation Serif',serif" font-size="28" fill="#404040" fill-opacity="0.25" stroke="#404040" stroke-width="0.75" textLength="45" lengthAdjust="spacingAndGlyphs">280</text>
<rect x="982.5" y="895.2" width="55.8" height="28.9" fill="none" stroke="#404040" stroke-width="1"/>
<text x="987.2" y="918.0" font-family="'Liberation Serif',serif" font-size="28" fill="#404040" fill-opacity="0.25" stroke="#404040" stroke-width="0.75" textLength="45" lengthAdjust="spacingAndGlyphs">280</text>
<rect x="1090.8" y="1011.3" width="55.0" height="28.4" fill="none" stroke="#404040" stroke-width="1"/>
<text x="1095.5" y="1033.6" font-family="'Liberation Serif',serif" font-size="28" fill="#404040" fill-opacity="0.25" stroke="#404040" stroke-width="0.75" textLength="45" lengthAdjust="spacingAndGlyphs">280</text>
<g clip-path="url(#clipf)" stroke="#000" fill="none" stroke-linecap="butt">
<path d="M194.9 220.2 L278.5 220.2M278.5 220.2 L258.7 228.2M278.5 220.2 L258.7 212.2" stroke-width="2.0"/>
<path d="M278.5 225.8 L358.7 221.4M358.7 221.4 L340.2 230.1M358.7 221.4 L339.3 214.8" stroke-width="2.0"/>
<path d="M361.1 228.3 L438.8 226.3M438.8 226.3 L420.6 234.2M438.8 226.3 L420.2 219.4" stroke-width="2.0"/>
<path d="M446.2 230.7 L527.6 228.8M527.6 228.8 L508.5 237.0M527.6 228.8 L508.2 221.5" stroke-width="2.0"/>
<path d="M530.0 234.9 L607.8 234.4M607.8 234.4 L589.5 242.0M607.8 234.4 L589.4 227.1" stroke-width="2.0"/>
<path d="M613.9 236.1 L684.8 234.9M684.8 234.9 L668.2 242.0M684.8 234.9 L667.9 228.4" stroke-width="2.0"/>
<path d="M698.2 235.6 L761.8 238.1M761.8 238.1 L746.5 243.6M761.8 238.1 L747.0 231.4" stroke-width="2.0"/>
<path d="M782.1 237.3 L837.6 232.4M837.6 232.4 L824.9 238.9M837.6 232.4 L824.0 228.3" stroke-width="2.0"/>
<path d="M866.2 236.6 L918.5 235.6M918.5 235.6 L906.2 240.8M918.5 235.6 L906.0 230.8" stroke-width="2.0"/>
<path d="M949.8 236.1 L1007.2 230.7M1007.2 230.7 L994.1 237.5M1007.2 230.7 L993.1 226.5" stroke-width="2.0"/>
<path d="M1034.1 236.8 L1094.0 233.7M1094.0 233.7 L1080.1 240.2M1094.0 233.7 L1079.5 228.7" stroke-width="2.0"/>
<path d="M1118.4 235.6 L1185.0 231.5M1185.0 231.5 L1169.6 238.8M1185.0 231.5 L1168.9 226.1" stroke-width="2.0"/>
<path d="M194.9 280.1 L254.0 280.1M254.0 280.1 L240.0 285.7M254.0 280.1 L240.0 274.5" stroke-width="1.2"/>
<path d="M278.5 287.0 L344.5 283.0M344.5 283.0 L329.3 290.3M344.5 283.0 L328.5 277.6" stroke-width="2.0"/>
<path d="M362.3 289.4 L429.5 285.0M429.5 285.0 L414.0 292.5M429.5 285.0 L413.2 279.6" stroke-width="2.0"/>
<path d="M446.2 293.6 L514.6 292.3M514.6 292.3 L498.6 299.1M514.6 292.3 L498.3 286.1" stroke-width="2.0"/>
<path d="M530.0 299.7 L602.9 301.6M602.9 301.6 L585.5 308.1M602.9 301.6 L585.8 294.2" stroke-width="2.0"/>
<path d="M613.9 300.4 L689.7 303.3M689.7 303.3 L671.5 309.9M689.7 303.3 L672.1 295.4" stroke-width="2.0"/>
<path d="M698.2 300.4 L776.0 305.8M776.0 305.8 L757.1 312.0M776.0 305.8 L758.1 297.1" stroke-width="2.0"/>
<path d="M782.1 300.9 L862.3 304.6M862.3 304.6 L843.0 311.4M862.3 304.6 L843.7 296.1" stroke-width="2.0"/>
<path d="M866.2 300.4 L941.2 300.4M941.2 300.4 L923.5 307.6M941.2 300.4 L923.5 293.2" stroke-width="2.0"/>
<path d="M949.8 299.7 L1009.7 298.0M1009.7 298.0 L995.7 304.1M1009.7 298.0 L995.4 292.7" stroke-width="2.0"/>
<path d="M1034.1 300.2 L1087.2 295.5M1087.2 295.5 L1075.1 301.7M1087.2 295.5 L1074.2 291.5" stroke-width="2.0"/>
<path d="M1118.4 300.2 L1185.0 288.0M1185.0 288.0 L1170.4 297.2M1185.0 288.0 L1168.1 284.5" stroke-width="2.0"/>
<path d="M194.9 348.1 L238.4 347.3M238.4 347.3 L228.2 351.6M238.4 347.3 L228.0 343.3" stroke-width="2.0"/>
<path d="M278.0 355.9 L320.8 353.0M320.8 353.0 L311.0 357.8M320.8 353.0 L310.4 349.6" stroke-width="2.0"/>
<path d="M362.3 358.8 L399.0 353.9M399.0 353.9 L390.8 358.6M399.0 353.9 L389.9 351.6" stroke-width="2.0"/>
<path d="M446.2 363.2 L483.3 357.1M483.3 357.1 L475.1 362.1M483.3 357.1 L473.9 355.0" stroke-width="2.0"/>
<path d="M530.0 369.8 L568.7 369.8M568.7 369.8 L559.6 373.5M568.7 369.8 L559.6 366.1" stroke-width="2.0"/>
<path d="M613.9 370.6 L654.2 371.3M654.2 371.3 L644.6 375.0M654.2 371.3 L644.7 367.3" stroke-width="2.0"/>
<path d="M698.2 371.3 L742.7 375.0M742.7 375.0 L731.8 378.4M742.7 375.0 L732.5 369.9" stroke-width="2.0"/>
<path d="M782.1 371.8 L830.7 377.4M830.7 377.4 L818.7 380.7M830.7 377.4 L819.7 371.4" stroke-width="2.0"/>
<path d="M866.2 371.8 L916.0 369.3M916.0 369.3 L904.5 374.6M916.0 369.3 L904.0 365.1" stroke-width="2.0"/>
<path d="M949.8 370.6 L1012.1 375.0M1012.1 375.0 L996.9 379.9M1012.1 375.0 L997.8 368.0" stroke-width="2.0"/>
<path d="M1034.1 370.6 L1098.9 377.4M1098.9 377.4 L1082.9 382.0M1098.9 377.4 L1084.2 369.6" stroke-width="2.0"/>
<path d="M1118.4 370.6 L1185.0 370.6M1185.0 370.6 L1169.3 377.0M1185.0 370.6 L1169.3 364.2" stroke-width="2.0"/>
<path d="M194.9 422.9 L230.3 419.2M230.3 419.2 L222.3 423.5M230.3 419.2 L221.6 416.7" stroke-width="2.0"/>
<path d="M278.0 431.4 L310.5 431.0M310.5 431.0 L302.9 434.2M310.5 431.0 L302.8 428.0" stroke-width="2.0"/>
<path d="M362.3 435.8 L396.6 431.0M396.6 431.0 L388.9 435.4M396.6 431.0 L388.0 428.9" stroke-width="2.0"/>
<path d="M446.2 441.2 L478.4 435.1M478.4 435.1 L471.4 439.6M478.4 435.1 L470.2 433.5" stroke-width="2.0"/>
<path d="M530.0 449.0 L562.6 448.6M562.6 448.6 L554.9 451.8M562.6 448.6 L554.9 445.6" stroke-width="2.0"/>
<path d="M613.9 449.8 L644.4 449.3M644.4 449.3 L637.2 452.3M644.4 449.3 L637.1 446.5" stroke-width="2.0"/>
<path d="M698.2 449.8 L726.3 451.0M726.3 451.0 L719.5 453.4M726.3 451.0 L719.8 448.0" stroke-width="2.0"/>
<path d="M782.1 450.5 L808.2 455.4M808.2 455.4 L801.6 456.7M808.2 455.4 L802.5 451.7" stroke-width="2.0"/>
<path d="M866.2 451.0 L892.8 440.0M892.8 440.0 L887.6 445.1M892.8 440.0 L885.5 440.1" stroke-width="2.0"/>
<path d="M949.8 450.5 L976.2 454.2M976.2 454.2 L969.6 455.8M976.2 454.2 L970.3 450.8" stroke-width="2.0"/>
<path d="M1034.1 451.0 L1064.7 448.1M1064.7 448.1 L1057.7 451.7M1064.7 448.1 L1057.2 445.9" stroke-width="2.0"/>
<path d="M1118.4 449.8 L1153.9 449.8M1153.9 449.8 L1145.5 453.2M1153.9 449.8 L1145.5 446.4" stroke-width="2.0"/>
<path d="M194.9 506.0 L226.7 505.3M226.7 505.3 L219.2 508.5M226.7 505.3 L219.1 502.4" stroke-width="2.0"/>
<path d="M278.0 517.0 L312.2 516.5M312.2 516.5 L304.2 519.9M312.2 516.5 L304.1 513.4" stroke-width="2.0"/>
<path d="M362.3 521.9 L395.3 519.4M395.3 519.4 L387.7 523.1M395.3 519.4 L387.3 516.8" stroke-width="2.0"/>
<path d="M446.2 528.0 L479.7 523.8M479.7 523.8 L472.2 528.0M479.7 523.8 L471.4 521.6" stroke-width="2.0"/>
<path d="M530.0 537.8 L559.6 540.2M559.6 540.2 L552.4 542.5M559.6 540.2 L552.8 536.8" stroke-width="2.0"/>
<path d="M613.9 537.8 L640.8 542.2M640.8 542.2 L634.0 543.7M640.8 542.2 L634.9 538.6" stroke-width="2.0"/>
<path d="M698.2 537.8 L724.6 541.0M724.6 541.0 L718.1 542.8M724.6 541.0 L718.7 537.7" stroke-width="2.0"/>
<path d="M782.1 539.5 L807.0 545.8M807.0 545.8 L800.5 546.7M807.0 545.8 L801.7 541.9" stroke-width="2.0"/>
<path d="M866.2 540.2 L893.1 528.7M893.1 528.7 L887.8 534.0M893.1 528.7 L885.6 528.8" stroke-width="2.0"/>
<path d="M949.8 539.0 L976.2 545.1M976.2 545.1 L969.4 546.2M976.2 545.1 L970.5 541.1" stroke-width="2.0"/>
<path d="M1034.1 539.5 L1059.8 532.4M1059.8 532.4 L1054.4 536.5M1059.8 532.4 L1053.0 531.6" stroke-width="2.0"/>
<path d="M1118.4 539.0 L1142.9 537.0M1142.9 537.0 L1137.3 539.8M1142.9 537.0 L1136.9 535.1" stroke-width="2.0"/>
<path d="M194.9 599.4 L209.6 600.6M209.6 600.6 L206.0 601.7M209.6 600.6 L206.2 598.9" stroke-width="2.0"/>
<path d="M278.0 612.1 L293.9 614.1M293.9 614.1 L289.9 615.1M293.9 614.1 L290.3 612.1" stroke-width="2.0"/>
<path d="M362.3 618.2 L377.0 619.9M377.0 619.9 L373.4 620.9M377.0 619.9 L373.7 618.1" stroke-width="2.0"/>
<path d="M446.2 623.8 L458.9 623.8M458.9 623.8 L455.9 625.0M458.9 623.8 L455.9 622.6" stroke-width="2.0"/>
<path d="M530.0 634.1 L543.0 638.5M543.0 638.5 L539.5 638.7M543.0 638.5 L540.3 636.2" stroke-width="2.0"/>
<path d="M613.9 636.6 L628.1 641.9M628.1 641.9 L624.2 642.0M628.1 641.9 L625.2 639.3" stroke-width="2.0"/>
<path d="M698.2 636.6 L710.9 641.0M710.9 641.0 L707.5 641.2M710.9 641.0 L708.3 638.7" stroke-width="2.0"/>
<path d="M782.1 637.0 L794.8 643.9M794.8 643.9 L791.1 643.5M794.8 643.9 L792.5 641.1" stroke-width="2.0"/>
<path d="M866.2 639.5 L880.1 627.5M880.1 627.5 L878.0 631.7M880.1 627.5 L875.7 629.0" stroke-width="2.0"/>
<path d="M949.8 637.8 L967.6 645.1M967.6 645.1 L962.7 645.1M967.6 645.1 L964.1 641.7" stroke-width="2.0"/>
<path d="M1034.1 638.5 L1052.0 634.6M1052.0 634.6 L1048.1 637.2M1052.0 634.6 L1047.4 633.8" stroke-width="2.0"/>
<path d="M1118.4 637.0 L1135.6 639.5M1135.6 639.5 L1131.3 640.6M1135.6 639.5 L1131.8 637.3" stroke-width="2.0"/>
<path d="M194.9 701.3 L203.4 708.7M203.4 708.7 L200.7 707.8M203.4 708.7 L202.1 706.1" stroke-width="1.8"/>
<path d="M278.0 714.8 L287.8 722.1M287.8 722.1 L284.8 721.3M287.8 722.1 L286.2 719.4" stroke-width="2.0"/>
<path d="M362.3 722.1 L369.7 728.2M369.7 728.2 L367.4 727.5M369.7 728.2 L368.5 726.1" stroke-width="1.8"/>
<path d="M446.2 731.4 L453.5 731.9M453.5 731.9 L451.7 732.5M453.5 731.9 L451.8 731.1" stroke-width="1.8"/>
<path d="M530.0 743.6 L536.9 742.4M536.9 742.4 L535.4 743.3M536.9 742.4 L535.2 742.0" stroke-width="1.8"/>
<path d="M613.9 744.1 L621.2 750.2M621.2 750.2 L618.9 749.5M621.2 750.2 L620.1 748.1" stroke-width="1.8"/>
<path d="M698.2 745.3 L703.1 750.2M703.1 750.2 L701.5 749.5M703.1 750.2 L702.4 748.6" stroke-width="1.8"/>
<path d="M782.1 747.3 L785.7 753.4M785.7 753.4 L784.3 752.3M785.7 753.4 L785.4 751.6" stroke-width="1.8"/>
<path d="M866.2 747.8 L867.2 738.7M867.2 738.7 L867.8 740.9M867.2 738.7 L866.1 740.8" stroke-width="1.8"/>
<path d="M949.8 746.6 L949.8 751.4M949.8 751.4 L949.3 750.3M949.8 751.4 L950.3 750.3" stroke-width="1.8"/>
<path d="M1034.1 747.0 L1034.5 748.5" stroke-width="1.8"/>
<path d="M1117.5 746.6 L1117.2 752.7M1117.2 752.7 L1116.7 751.2M1117.2 752.7 L1117.9 751.3" stroke-width="1.8"/>
<path d="M194.9 772.2 L199.3 780.3M199.3 780.3 L197.5 778.8M199.3 780.3 L199.0 778.0" stroke-width="1.8"/>
<path d="M278.0 789.3 L278.5 794.2M278.5 794.2 L277.9 793.1M278.5 794.2 L278.8 793.0" stroke-width="1.8"/>
<path d="M362.3 796.7 L358.7 799.1M358.7 799.1 L359.3 798.2M358.7 799.1 L359.8 798.9" stroke-width="1.8"/>
<path d="M446.2 804.7 L444.2 805.2" stroke-width="1.8"/>
<path d="M530.0 818.4 L522.2 816.7M522.2 816.7 L524.2 816.4M522.2 816.7 L523.9 817.8" stroke-width="1.8"/>
<path d="M614.6 820.2 L607.3 824.1M607.3 824.1 L608.7 822.5M607.3 824.1 L609.4 823.9" stroke-width="1.8"/>
<path d="M698.2 820.2 L692.8 824.1M692.8 824.1 L693.7 822.7M692.8 824.1 L694.4 823.7" stroke-width="1.8"/>
<path d="M782.1 822.6 L777.7 828.2M777.7 828.2 L778.2 826.5M777.7 828.2 L779.3 827.3" stroke-width="1.8"/>
<path d="M866.2 822.6 L861.8 815.3M861.8 815.3 L863.5 816.6M861.8 815.3 L862.1 817.4" stroke-width="1.8"/>
<path d="M950.3 821.6 L944.4 825.3M944.4 825.3 L945.4 823.9M944.4 825.3 L946.1 825.0" stroke-width="1.8"/>
<path d="M1034.8 822.1 L1029.2 820.9M1029.2 820.9 L1030.6 820.6M1029.2 820.9 L1030.4 821.7" stroke-width="1.8"/>
<path d="M1118.9 821.6 L1112.3 825.0M1112.3 825.0 L1113.5 823.6M1112.3 825.0 L1114.2 824.8" stroke-width="1.8"/>
<path d="M278.5 849.0 L264.6 855.1M264.6 855.1 L267.3 852.3M264.6 855.1 L268.5 855.0" stroke-width="2.0"/>
<path d="M362.3 856.8 L351.3 859.3M351.3 859.3 L353.7 857.7M351.3 859.3 L354.1 859.8" stroke-width="1.8"/>
<path d="M446.2 864.9 L433.2 866.8M433.2 866.8 L436.1 865.1M433.2 866.8 L436.5 867.6" stroke-width="2.0"/>
<path d="M530.0 880.0 L519.8 880.0M519.8 880.0 L522.2 879.0M519.8 880.0 L522.2 881.0" stroke-width="1.8"/>
<path d="M614.6 881.5 L604.1 882.0M604.1 882.0 L606.5 880.9M604.1 882.0 L606.6 882.9" stroke-width="1.8"/>
<path d="M698.2 882.7 L688.0 885.2M688.0 885.2 L690.2 883.6M688.0 885.2 L690.7 885.6" stroke-width="1.8"/>
<path d="M782.6 883.7 L771.6 888.8M771.6 888.8 L773.7 886.5M771.6 888.8 L774.7 888.6" stroke-width="2.0"/>
<path d="M866.7 884.9 L854.4 879.6M854.4 879.6 L857.8 879.7M854.4 879.6 L856.8 882.0" stroke-width="2.0"/>
<path d="M950.3 883.7 L935.6 886.4M935.6 886.4 L938.8 884.4M935.6 886.4 L939.3 887.2" stroke-width="2.0"/>
<path d="M1034.8 884.0 L1020.7 882.0M1020.7 882.0 L1024.2 881.1M1020.7 882.0 L1023.8 883.8" stroke-width="2.0"/>
<path d="M1118.9 883.2 L1104.3 885.7M1104.3 885.7 L1107.5 883.7M1104.3 885.7 L1108.0 886.5" stroke-width="2.0"/>
<path d="M278.5 906.4 L265.3 913.0M265.3 913.0 L267.8 910.2M265.3 913.0 L269.1 912.7" stroke-width="2.0"/>
<path d="M362.3 916.2 L352.6 918.7M352.6 918.7 L354.7 917.2M352.6 918.7 L355.1 919.0" stroke-width="1.8"/>
<path d="M446.2 924.8 L436.4 926.0M436.4 926.0 L438.6 924.8M436.4 926.0 L438.8 926.7" stroke-width="1.8"/>
<path d="M530.0 940.2 L521.7 939.9M521.7 939.9 L523.7 939.2M521.7 939.9 L523.6 940.8" stroke-width="1.8"/>
<path d="M614.6 941.9 L603.6 942.4M603.6 942.4 L606.2 941.2M603.6 942.4 L606.2 943.3" stroke-width="1.8"/>
<path d="M698.2 942.6 L686.5 942.6M686.5 942.6 L689.3 941.5M686.5 942.6 L689.3 943.7" stroke-width="1.8"/>
<path d="M782.6 945.1 L770.3 948.7M770.3 948.7 L772.9 946.7M770.3 948.7 L773.6 949.0" stroke-width="2.0"/>
<path d="M866.7 945.6 L853.2 941.9M853.2 941.9 L856.7 941.5M853.2 941.9 L856.0 944.1" stroke-width="2.0"/>
<path d="M950.3 944.8 L934.6 946.3M934.6 946.3 L938.2 944.4M934.6 946.3 L938.5 947.4" stroke-width="2.0"/>
<path d="M1034.8 944.3 L1018.2 942.4M1018.2 942.4 L1022.3 941.3M1018.2 942.4 L1021.9 944.4" stroke-width="2.0"/>
<path d="M1118.9 944.3 L1101.3 945.6M1101.3 945.6 L1105.3 943.6M1101.3 945.6 L1105.6 947.0" stroke-width="2.0"/>
<path d="M278.5 986.4 L271.9 986.4M271.9 986.4 L273.5 985.8M271.9 986.4 L273.5 987.0" stroke-width="1.8"/>
<path d="M362.3 994.4 L357.4 995.7M357.4 995.7 L358.4 994.9M357.4 995.7 L358.7 995.9" stroke-width="1.8"/>
<path d="M446.2 1005.0 L441.8 1005.9M441.8 1005.9 L442.8 1005.3M441.8 1005.9 L442.9 1006.1" stroke-width="1.8"/>
<path d="M530.0 1022.1 L524.7 1022.6M524.7 1022.6 L525.9 1022.0M524.7 1022.6 L526.0 1023.0" stroke-width="1.8"/>
<path d="M614.6 1023.3 L606.6 1022.6M606.6 1022.6 L608.6 1022.0M606.6 1022.6 L608.4 1023.5" stroke-width="1.8"/>
<path d="M698.2 1023.8 L691.4 1022.6M691.4 1022.6 L693.1 1022.2M691.4 1022.6 L692.9 1023.5" stroke-width="1.8"/>
<path d="M782.6 1027.0 L773.5 1027.0M773.5 1027.0 L775.7 1026.1M773.5 1027.0 L775.7 1027.9" stroke-width="1.8"/>
<path d="M866.7 1027.0 L855.2 1027.0M855.2 1027.0 L857.9 1025.9M855.2 1027.0 L857.9 1028.1" stroke-width="1.8"/>
<path d="M950.3 1026.2 L936.3 1026.2M936.3 1026.2 L939.6 1024.9M936.3 1026.2 L939.6 1027.5" stroke-width="2.0"/>
<path d="M1034.8 1026.2 L1020.7 1026.2M1020.7 1026.2 L1024.0 1024.9M1020.7 1026.2 L1024.0 1027.5" stroke-width="2.0"/>
<path d="M1118.9 1025.7 L1102.6 1025.7M1102.6 1025.7 L1106.5 1024.1M1102.6 1025.7 L1106.5 1027.3" stroke-width="2.0"/>
</g>
<path d="M214.5 179.5 v6 M214.5 1055.5 v-6M234.5 179.5 v6 M234.5 1055.5 v-6M254.5 179.5 v6 M254.5 1055.5 v-6M273.5 179.5 v6 M273.5 1055.5 v-6M293.5 179.5 v6 M293.5 1055.5 v-6M313.5 179.5 v6 M313.5 1055.5 v-6M333.5 179.5 v6 M333.5 1055.5 v-6M353.5 179.5 v6 M353.5 1055.5 v-6M373.5 179.5 v6 M373.5 1055.5 v-6M392.5 179.5 v12 M392.5 1055.5 v-12M412.5 179.5 v6 M412.5 1055.5 v-6M432.5 179.5 v6 M432.5 1055.5 v-6M452.5 179.5 v6 M452.5 1055.5 v-6M472.5 179.5 v6 M472.5 1055.5 v-6M492.5 179.5 v6 M492.5 1055.5 v-6M512.5 179.5 v6 M512.5 1055.5 v-6M531.5 179.5 v6 M531.5 1055.5 v-6M551.5 179.5 v6 M551.5 1055.5 v-6M571.5 179.5 v6 M571.5 1055.5 v-6M591.5 179.5 v12 M591.5 1055.5 v-12M611.5 179.5 v6 M611.5 1055.5 v-6M631.5 179.5 v6 M631.5 1055.5 v-6M651.5 179.5 v6 M651.5 1055.5 v-6M670.5 179.5 v6 M670.5 1055.5 v-6M690.5 179.5 v6 M690.5 1055.5 v-6M710.5 179.5 v6 M710.5 1055.5 v-6M730.5 179.5 v6 M730.5 1055.5 v-6M750.5 179.5 v6 M750.5 1055.5 v-6M770.5 179.5 v6 M770.5 1055.5 v-6M790.5 179.5 v12 M790.5 1055.5 v-12M809.5 179.5 v6 M809.5 1055.5 v-6M829.5 179.5 v6 M829.5 1055.5 v-6M849.5 179.5 v6 M849.5 1055.5 v-6M869.5 179.5 v6 M869.5 1055.5 v-6M889.5 179.5 v6 M889.5 1055.5 v-6M909.5 179.5 v6 M909.5 1055.5 v-6M928.5 179.5 v6 M928.5 1055.5 v-6M948.5 179.5 v6 M948.5 1055.5 v-6M968.5 179.5 v6 M968.5 1055.5 v-6M988.5 179.5 v12 M988.5 1055.5 v-12M1008.5 179.5 v6 M1008.5 1055.5 v-6M1028.5 179.5 v6 M1028.5 1055.5 v-6M1048.5 179.5 v6 M1048.5 1055.5 v-6M1067.5 179.5 v6 M1067.5 1055.5 v-6M1087.5 179.5 v6 M1087.5 1055.5 v-6M1107.5 179.5 v6 M1107.5 1055.5 v-6M1127.5 179.5 v6 M1127.5 1055.5 v-6M1147.5 179.5 v6 M1147.5 1055.5 v-6M194.5 191.5 h6 M1154.5 191.5 h-6M194.5 203.5 h6 M1154.5 203.5 h-6M194.5 215.5 h6 M1154.5 215.5 h-6M194.5 227.5 h6 M1154.5 227.5 h-6M194.5 239.5 h6 M1154.5 239.5 h-6M194.5 251.5 h6 M1154.5 251.5 h-6M194.5 262.5 h6 M1154.5 262.5 h-6M194.5 274.5 h6 M1154.5 274.5 h-6M194.5 286.5 h6 M1154.5 286.5 h-6M194.5 298.5 h12 M1154.5 298.5 h-12M194.5 310.5 h6 M1154.5 310.5 h-6M194.5 321.5 h6 M1154.5 321.5 h-6M194.5 333.5 h6 M1154.5 333.5 h-6M194.5 345.5 h6 M1154.5 345.5 h-6M194.5 357.5 h6 M1154.5 357.5 h-6M194.5 369.5 h6 M1154.5 369.5 h-6M194.5 381.5 h6 M1154.5 381.5 h-6M194.5 392.5 h6 M1154.5 392.5 h-6M194.5 404.5 h6 M1154.5 404.5 h-6M194.5 416.5 h12 M1154.5 416.5 h-12M194.5 428.5 h6 M1154.5 428.5 h-6M194.5 440.5 h6 M1154.5 440.5 h-6M194.5 451.5 h6 M1154.5 451.5 h-6M194.5 463.5 h6 M1154.5 463.5 h-6M194.5 475.5 h6 M1154.5 475.5 h-6M194.5 487.5 h6 M1154.5 487.5 h-6M194.5 499.5 h6 M1154.5 499.5 h-6M194.5 511.5 h6 M1154.5 511.5 h-6M194.5 522.5 h6 M1154.5 522.5 h-6M194.5 534.5 h12 M1154.5 534.5 h-12M194.5 546.5 h6 M1154.5 546.5 h-6M194.5 558.5 h6 M1154.5 558.5 h-6M194.5 570.5 h6 M1154.5 570.5 h-6M194.5 581.5 h6 M1154.5 581.5 h-6M194.5 593.5 h6 M1154.5 593.5 h-6M194.5 605.5 h6 M1154.5 605.5 h-6M194.5 617.5 h6 M1154.5 617.5 h-6M194.5 629.5 h6 M1154.5 629.5 h-6M194.5 641.5 h6 M1154.5 641.5 h-6M194.5 652.5 h12 M1154.5 652.5 h-12M194.5 664.5 h6 M1154.5 664.5 h-6M194.5 676.5 h6 M1154.5 676.5 h-6M194.5 688.5 h6 M1154.5 688.5 h-6M194.5 700.5 h6 M1154.5 700.5 h-6M194.5 711.5 h6 M1154.5 711.5 h-6M194.5 723.5 h6 M1154.5 723.5 h-6M194.5 735.5 h6 M1154.5 735.5 h-6M194.5 747.5 h6 M1154.5 747.5 h-6M194.5 759.5 h6 M1154.5 759.5 h-6M194.5 771.5 h12 M1154.5 771.5 h-12M194.5 782.5 h6 M1154.5 782.5 h-6M194.5 794.5 h6 M1154.5 794.5 h-6M194.5 806.5 h6 M1154.5 806.5 h-6M194.5 818.5 h6 M1154.5 818.5 h-6M194.5 830.5 h6 M1154.5 830.5 h-6M194.5 841.5 h6 M1154.5 841.5 h-6M194.5 853.5 h6 M1154.5 853.5 h-6M194.5 865.5 h6 M1154.5 865.5 h-6M194.5 877.5 h6 M1154.5 877.5 h-6M194.5 889.5 h12 M1154.5 889.5 h-12M194.5 900.5 h6 M1154.5 900.5 h-6M194.5 912.5 h6 M1154.5 912.5 h-6M194.5 924.5 h6 M1154.5 924.5 h-6M194.5 936.5 h6 M1154.5 936.5 h-6M194.5 948.5 h6 M1154.5 948.5 h-6M194.5 960.5 h6 M1154.5 960.5 h-6M194.5 971.5 h6 M1154.5 971.5 h-6M194.5 983.5 h6 M1154.5 983.5 h-6M194.5 995.5 h6 M1154.5 995.5 h-6M194.5 1007.5 h12 M1154.5 1007.5 h-12M194.5 1019.5 h6 M1154.5 1019.5 h-6M194.5 1030.5 h6 M1154.5 1030.5 h-6M194.5 1042.5 h6 M1154.5 1042.5 h-6" stroke="#000" stroke-width="1" fill="none"/>
<rect x="194.5" y="179.5" width="960.0" height="876.0" fill="none" stroke="#000" stroke-width="1"/>
<rect x="1190.5" y="179.5" width="19" height="175.4" fill="#008000" stroke="#000" stroke-width="1"/>
<rect x="1190.5" y="354.9" width="19" height="175.3" fill="#00c000" stroke="#000" stroke-width="1"/>
<rect x="1190.5" y="530.2" width="19" height="175.3" fill="#40ff40" stroke="#000" stroke-width="1"/>
<rect x="1190.5" y="705.5" width="19" height="175.4" fill="#c0ffc0" stroke="#000" stroke-width="1"/>
<rect x="1190.5" y="880.9" width="19" height="174.6" fill="#ffffff" stroke="#000" stroke-width="1"/>
<text x="1225.0" y="188.0" font-family="'Liberation Serif',serif" font-size="22" fill="#000" stroke="#fff" stroke-width="0.30" textLength="15.0" lengthAdjust="spacingAndGlyphs"  xml:space="preserve">%</text>
<text x="1225.7" y="362.5" font-family="'Liberation Serif',serif" font-size="23.5" fill="#000" stroke="#fff" stroke-width="0.30" textLength="40.5" lengthAdjust="spacingAndGlyphs"  xml:space="preserve">100</text>
<text x="1224.3" y="537.8" font-family="'Liberation Serif',serif" font-size="23.5" fill="#000" stroke="#fff" stroke-width="0.30" textLength="27.2" lengthAdjust="spacingAndGlyphs"  xml:space="preserve">90</text>
<text x="1224.3" y="713.1" font-family="'Liberation Serif',serif" font-size="23.5" fill="#000" stroke="#fff" stroke-width="0.30" textLength="27.2" lengthAdjust="spacingAndGlyphs"  xml:space="preserve">80</text>
<text x="1224.8" y="888.5" font-family="'Liberation Serif',serif" font-size="23.5" fill="#000" stroke="#fff" stroke-width="0.30" textLength="27.2" lengthAdjust="spacingAndGlyphs"  xml:space="preserve">70</text>
<text x="81.9" y="26.0" font-family="'Liberation Serif',serif" font-size="27" fill="#000" stroke="#fff" stroke-width="0.30" textLength="52.7" lengthAdjust="spacingAndGlyphs"  xml:space="preserve">Init:</text>
<text x="151.5" y="26.0" font-family="'Liberation Serif',serif" font-size="27" fill="#000" stroke="#fff" stroke-width="0.30" textLength="28.1" lengthAdjust="spacingAndGlyphs"  xml:space="preserve">00</text>
<text x="195.9" y="26.0" font-family="'Liberation Serif',serif" font-size="27" fill="#000" stroke="#fff" stroke-width="0.30" textLength="47.4" lengthAdjust="spacingAndGlyphs"  xml:space="preserve">UTC</text>
<text x="259.6" y="26.0" font-family="'Liberation Serif',serif" font-size="27" fill="#000" stroke="#fff" stroke-width="0.30" textLength="47.4" lengthAdjust="spacingAndGlyphs"  xml:space="preserve">Thu</text>
<text x="321.9" y="26.0" font-family="'Liberation Serif',serif" font-size="27" fill="#000" stroke="#fff" stroke-width="0.30" textLength="29.0" lengthAdjust="spacingAndGlyphs"  xml:space="preserve">03</text>
<text x="367.2" y="26.0" font-family="'Liberation Serif',serif" font-size="27" fill="#000" stroke="#fff" stroke-width="0.30" textLength="45.0" lengthAdjust="spacingAndGlyphs"  xml:space="preserve">Dec</text>
<text x="428.5" y="26.0" font-family="'Liberation Serif',serif" font-size="27" fill="#000" stroke="#fff" stroke-width="0.30" textLength="28.2" lengthAdjust="spacingAndGlyphs"  xml:space="preserve">09</text>
<text x="1064.7" y="26.0" font-family="'Liberation Serif',serif" font-size="27" fill="#000" stroke="#fff" stroke-width="0.30" textLength="62.6" lengthAdjust="spacingAndGlyphs"  xml:space="preserve">Fcst:</text>
<text x="1168.1" y="26.0" font-family="'Liberation Serif',serif" font-size="27" fill="#000" stroke="#fff" stroke-width="0.30" textLength="28.6" lengthAdjust="spacingAndGlyphs"  xml:space="preserve">67</text>
<text x="1212.7" y="26.0" font-family="'Liberation Serif',serif" font-size="27" fill="#000" stroke="#fff" stroke-width="0.30" textLength="16.0" lengthAdjust="spacingAndGlyphs"  xml:space="preserve">h</text>
<text x="544.9" y="51.2" font-family="'Liberation Serif',serif" font-size="27" fill="#000" stroke="#fff" stroke-width="0.30" textLength="70.3" lengthAdjust="spacingAndGlyphs"  xml:space="preserve">Valid:</text>
<text x="634.1" y="51.2" font-family="'Liberation Serif',serif" font-size="27" fill="#000" stroke="#fff" stroke-width="0.30" textLength="24.8" lengthAdjust="spacingAndGlyphs"  xml:space="preserve">19</text>
<text x="677.1" y="51.2" font-family="'Liberation Serif',serif" font-size="27" fill="#000" stroke="#fff" stroke-width="0.30" textLength="45.9" lengthAdjust="spacingAndGlyphs"  xml:space="preserve">UTC</text>
<text x="741.9" y="51.2" font-family="'Liberation Serif',serif" font-size="27" fill="#000" stroke="#fff" stroke-width="0.30" textLength="42.2" lengthAdjust="spacingAndGlyphs"  xml:space="preserve">Sat</text>
<text x="797.3" y="51.2" font-family="'Liberation Serif',serif" font-size="27" fill="#000" stroke="#fff" stroke-width="0.30" textLength="27.6" lengthAdjust="spacingAndGlyphs"  xml:space="preserve">05</text>
<text x="842.4" y="51.2" font-family="'Liberation Serif',serif" font-size="27" fill="#000" stroke="#fff" stroke-width="0.30" textLength="43.9" lengthAdjust="spacingAndGlyphs"  xml:space="preserve">Dec</text>
<text x="902.9" y="51.2" font-family="'Liberation Serif',serif" font-size="27" fill="#000" stroke="#fff" stroke-width="0.30" textLength="28.7" lengthAdjust="spacingAndGlyphs"  xml:space="preserve">09</text>
<text x="947.1" y="51.2" font-family="'Liberation Serif',serif" font-size="27" fill="#000" stroke="#fff" stroke-width="0.30" textLength="40.8" lengthAdjust="spacingAndGlyphs"  xml:space="preserve">(14</text>
<text x="1003.4" y="51.2" font-family="'Liberation Serif',serif" font-size="27" fill="#000" stroke="#fff" stroke-width="0.30" textLength="45.9" lengthAdjust="spacingAndGlyphs"  xml:space="preserve">EST</text>
<text x="1063.9" y="51.2" font-family="'Liberation Serif',serif" font-size="27" fill="#000" stroke="#fff" stroke-width="0.30" textLength="41.6" lengthAdjust="spacingAndGlyphs"  xml:space="preserve">Sat</text>
<text x="1120.2" y="51.2" font-family="'Liberation Serif',serif" font-size="27" fill="#000" stroke="#fff" stroke-width="0.30" textLength="28.1" lengthAdjust="spacingAndGlyphs"  xml:space="preserve">05</text>
<text x="1165.2" y="51.2" font-family="'Liberation Serif',serif" font-size="27" fill="#000" stroke="#fff" stroke-width="0.30" textLength="44.5" lengthAdjust="spacingAndGlyphs"  xml:space="preserve">Dec</text>
<text x="1226.6" y="51.2" font-family="'Liberation Serif',serif" font-size="27" fill="#000" stroke="#fff" stroke-width="0.30" textLength="38.5" lengthAdjust="spacingAndGlyphs"  xml:space="preserve">09)</text>
<text x="87.8" y="76.4" font-family="'Liberation Serif',serif" font-size="23.8" fill="#000" stroke="#fff" stroke-width="0.30" textLength="96.3" lengthAdjust="spacingAndGlyphs"  xml:space="preserve">Relative</text>
<text x="198.9" y="76.4" font-family="'Liberation Serif',serif" font-size="23.8" fill="#000" stroke="#fff" stroke-width="0.30" textLength="111.1" lengthAdjust="spacingAndGlyphs"  xml:space="preserve">Humidity</text>
<text x="326.3" y="76.4" font-family="'Liberation Serif',serif" font-size="23.8" fill="#000" stroke="#fff" stroke-width="0.30" textLength="34.1" lengthAdjust="spacingAndGlyphs"  xml:space="preserve">(%)</text>
<text x="87.8" y="100.7" font-family="'Liberation Serif',serif" font-size="23.8" fill="#484848" stroke="#fff" stroke-width="0.30" textLength="111.1" lengthAdjust="spacingAndGlyphs"  xml:space="preserve">Potential</text>
<text x="212.2" y="100.7" font-family="'Liberation Serif',serif" font-size="23.8" fill="#484848" stroke="#fff" stroke-width="0.30" textLength="160.6" lengthAdjust="spacingAndGlyphs"  xml:space="preserve">Temperature</text>
<text x="387.0" y="100.7" font-family="'Liberation Serif',serif" font-size="23.8" fill="#484848" stroke="#fff" stroke-width="0.30" textLength="34.1" lengthAdjust="spacingAndGlyphs"  xml:space="preserve">(K)</text>
<text x="87.8" y="125.0" font-family="'Liberation Serif',serif" font-size="23.8" fill="#000" stroke="#fff" stroke-width="0.30" textLength="136.3" lengthAdjust="spacingAndGlyphs"  xml:space="preserve">Circulation</text>
<text x="238.3" y="125.0" font-family="'Liberation Serif',serif" font-size="23.8" fill="#000" stroke="#fff" stroke-width="0.30" textLength="91.8" lengthAdjust="spacingAndGlyphs"  xml:space="preserve">Vectors</text>
<text x="140.9" y="186.3" font-family="'Liberation Sans',sans-serif" font-size="17.8" fill="#000" stroke="#fff" stroke-width="0.30" textLength="32.3" lengthAdjust="spacingAndGlyphs"  xml:space="preserve">300</text>
<text x="140.9" y="304.5" font-family="'Liberation Sans',sans-serif" font-size="17.8" fill="#000" stroke="#fff" stroke-width="0.30" textLength="32.3" lengthAdjust="spacingAndGlyphs"  xml:space="preserve">400</text>
<text x="140.9" y="422.7" font-family="'Liberation Sans',sans-serif" font-size="17.8" fill="#000" stroke="#fff" stroke-width="0.30" textLength="32.3" lengthAdjust="spacingAndGlyphs"  xml:space="preserve">500</text>
<text x="140.9" y="540.8" font-family="'Liberation Sans',sans-serif" font-size="17.8" fill="#000" stroke="#fff" stroke-width="0.30" textLength="32.3" lengthAdjust="spacingAndGlyphs"  xml:space="preserve">600</text>
<text x="140.9" y="659.0" font-family="'Liberation Sans',sans-serif" font-size="17.8" fill="#000" stroke="#fff" stroke-width="0.30" textLength="32.3" lengthAdjust="spacingAndGlyphs"  xml:space="preserve">700</text>
<text x="140.9" y="777.2" font-family="'Liberation Sans',sans-serif" font-size="17.8" fill="#000" stroke="#fff" stroke-width="0.30" textLength="32.3" lengthAdjust="spacingAndGlyphs"  xml:space="preserve">800</text>
<text x="140.9" y="895.4" font-family="'Liberation Sans',sans-serif" font-size="17.8" fill="#000" stroke="#fff" stroke-width="0.30" textLength="32.3" lengthAdjust="spacingAndGlyphs"  xml:space="preserve">900</text>
<text x="129.7" y="1013.6" font-family="'Liberation Sans',sans-serif" font-size="17.8" fill="#000" stroke="#fff" stroke-width="0.30" textLength="43.5" lengthAdjust="spacingAndGlyphs"  xml:space="preserve">1000</text>
<text x="190.0" y="1080.0" font-family="'Liberation Sans',sans-serif" font-size="17.8" fill="#000" stroke="#fff" stroke-width="0.30" textLength="9.0" lengthAdjust="spacingAndGlyphs"  xml:space="preserve">0</text>
<text x="377.3" y="1080.0" font-family="'Liberation Sans',sans-serif" font-size="17.8" fill="#000" stroke="#fff" stroke-width="0.30" textLength="31.8" lengthAdjust="spacingAndGlyphs"  xml:space="preserve">100</text>
<text x="575.8" y="1080.0" font-family="'Liberation Sans',sans-serif" font-size="17.8" fill="#000" stroke="#fff" stroke-width="0.30" textLength="31.8" lengthAdjust="spacingAndGlyphs"  xml:space="preserve">200</text>
<text x="774.3" y="1080.0" font-family="'Liberation Sans',sans-serif" font-size="17.8" fill="#000" stroke="#fff" stroke-width="0.30" textLength="31.8" lengthAdjust="spacingAndGlyphs"  xml:space="preserve">300</text>
<text x="972.8" y="1080.0" font-family="'Liberation Sans',sans-serif" font-size="17.8" fill="#000" stroke="#fff" stroke-width="0.30" textLength="31.8" lengthAdjust="spacingAndGlyphs"  xml:space="preserve">400</text>
<text x="195.1" y="1104.9" font-family="'Liberation Serif',serif" font-size="22" fill="#000" textLength="15.8" lengthAdjust="spacingAndGlyphs"  xml:space="preserve">W</text>
<text x="1142.0" y="1104.9" font-family="'Liberation Serif',serif" font-size="22" fill="#000" textLength="12.6" lengthAdjust="spacingAndGlyphs"  xml:space="preserve">E</text>
<text x="592.9" y="1104.8" font-family="'Liberation Serif',serif" font-size="23.5" fill="#000" stroke="#fff" stroke-width="0.30" textLength="96.0" lengthAdjust="spacingAndGlyphs"  xml:space="preserve">Distance</text>
<text x="703.6" y="1104.8" font-family="'Liberation Serif',serif" font-size="23.5" fill="#000" stroke="#fff" stroke-width="0.30" textLength="52.0" lengthAdjust="spacingAndGlyphs"  xml:space="preserve">(km)</text>
<text transform="translate(134.8,703.9) rotate(-90)" font-family="'Liberation Serif',serif" font-size="23.5" textLength="90.6" lengthAdjust="spacingAndGlyphs">Pressure</text>
<text transform="translate(134.8,589.8) rotate(-90)" font-family="'Liberation Serif',serif" font-size="23.5" textLength="57.2" lengthAdjust="spacingAndGlyphs">(hPa)</text>
<text x="342.7" y="1171.7" font-family="'Liberation Serif',serif" font-size="16.6" fill="#000" stroke="#fff" stroke-width="0.30" textLength="77.3" lengthAdjust="spacingAndGlyphs"  xml:space="preserve">MAXIMUM</text>
<text x="431.7" y="1171.7" font-family="'Liberation Serif',serif" font-size="16.6" fill="#000" stroke="#fff" stroke-width="0.30" textLength="68.3" lengthAdjust="spacingAndGlyphs"  xml:space="preserve">VECTOR:</text>
<text x="519.3" y="1171.7" font-family="'Liberation Serif',serif" font-size="16.6" fill="#000" stroke="#fff" stroke-width="0.30" textLength="35.7" lengthAdjust="spacingAndGlyphs"  xml:space="preserve">42.1</text>
<text x="566.0" y="1171.7" font-family="'Liberation Serif',serif" font-size="16.6" fill="#000" stroke="#fff" stroke-width="0.30" textLength="12.3" lengthAdjust="spacingAndGlyphs"  xml:space="preserve">m</text>
<text x="591.7" y="1171.7" font-family="'Liberation Serif',serif" font-size="16.6" fill="#000" stroke="#fff" stroke-width="0.30" textLength="7.6" lengthAdjust="spacingAndGlyphs"  xml:space="preserve">s</text>
<text x="626.7" y="1171.7" font-family="'Liberation Serif',serif" font-size="16.6" fill="#000" stroke="#fff" stroke-width="0.30" textLength="64.0" lengthAdjust="spacingAndGlyphs"  xml:space="preserve">(HORIZ)</text>
<text x="778.3" y="1171.7" font-family="'Liberation Serif',serif" font-size="16.6" fill="#000" stroke="#fff" stroke-width="0.30" textLength="25.0" lengthAdjust="spacingAndGlyphs"  xml:space="preserve">9.4</text>
<text x="815.0" y="1171.7" font-family="'Liberation Serif',serif" font-size="16.6" fill="#000" stroke="#fff" stroke-width="0.30" textLength="30.0" lengthAdjust="spacingAndGlyphs"  xml:space="preserve">dPa</text>
<text x="856.0" y="1171.7" font-family="'Liberation Serif',serif" font-size="16.6" fill="#000" stroke="#fff" stroke-width="0.30" textLength="7.3" lengthAdjust="spacingAndGlyphs"  xml:space="preserve">s</text>
<text x="890.7" y="1171.7" font-family="'Liberation Serif',serif" font-size="16.6" fill="#000" stroke="#fff" stroke-width="0.30" textLength="56.0" lengthAdjust="spacingAndGlyphs"  xml:space="preserve">(VERT)</text>
<text x="600.7" y="1165.3" font-family="'Liberation Serif',serif" font-size="11.5" fill="#000" stroke="#fff" stroke-width="0.30" textLength="14.3" lengthAdjust="spacingAndGlyphs" font-weight="bold" xml:space="preserve">−1</text>
<text x="865.0" y="1165.3" font-family="'Liberation Serif',serif" font-size="11.5" fill="#000" stroke="#fff" stroke-width="0.30" textLength="15.0" lengthAdjust="spacingAndGlyphs" font-weight="bold" xml:space="preserve">−1</text>
<text x="284.0" y="1190.7" font-family="'Liberation Serif',serif" font-size="16.6" fill="#484848" stroke="#fff" stroke-width="0.30" textLength="96.0" lengthAdjust="spacingAndGlyphs"  xml:space="preserve">CONTOURS:</text>
<text x="399.3" y="1190.7" font-family="'Liberation Serif',serif" font-size="16.6" fill="#484848" stroke="#fff" stroke-width="0.30" textLength="75.7" lengthAdjust="spacingAndGlyphs"  xml:space="preserve">UNITS=K</text>
<text x="492.7" y="1190.7" font-family="'Liberation Serif',serif" font-size="16.6" fill="#484848" stroke="#fff" stroke-width="0.30" textLength="45.6" lengthAdjust="spacingAndGlyphs"  xml:space="preserve">LOW=</text>
<text x="558.3" y="1190.7" font-family="'Liberation Serif',serif" font-size="16.6" fill="#484848" stroke="#fff" stroke-width="0.30" textLength="56.7" lengthAdjust="spacingAndGlyphs"  xml:space="preserve">280.00</text>
<text x="668.3" y="1190.7" font-family="'Liberation Serif',serif" font-size="16.6" fill="#484848" stroke="#fff" stroke-width="0.30" textLength="54.4" lengthAdjust="spacingAndGlyphs"  xml:space="preserve">HIGH=</text>
<text x="742.7" y="1190.7" font-family="'Liberation Serif',serif" font-size="16.6" fill="#484848" stroke="#fff" stroke-width="0.30" textLength="56.6" lengthAdjust="spacingAndGlyphs"  xml:space="preserve">408.00</text>
<text x="851.7" y="1190.7" font-family="'Liberation Serif',serif" font-size="16.6" fill="#484848" stroke="#fff" stroke-width="0.30" textLength="94.3" lengthAdjust="spacingAndGlyphs"  xml:space="preserve">INTERVAL=</text>
<text x="972.7" y="1190.7" font-family="'Liberation Serif',serif" font-size="16.6" fill="#484848" stroke="#fff" stroke-width="0.30" textLength="57.3" lengthAdjust="spacingAndGlyphs"  xml:space="preserve">4.0000</text>
<path d="M1234.5 1165.8 H1149.7 M1149.7 1165.8 L1167.6 1157.8 M1149.7 1165.8 L1167.6 1175.1 M1233.8 1166.8 V1157.5" stroke="#000" stroke-width="2" fill="none"/>
<circle cx="1233.8" cy="1157" r="1.8" fill="#000"/>
</svg>
</body></html>
